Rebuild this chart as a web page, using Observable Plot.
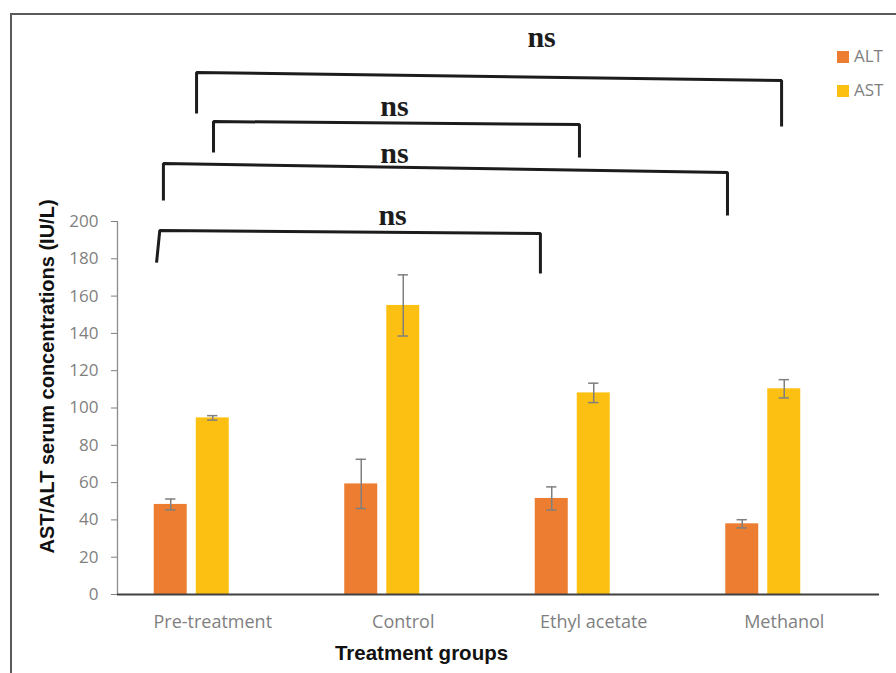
<!DOCTYPE html>
<html>
<head>
<meta charset="utf-8">
<script src="https://cdn.jsdelivr.net/npm/d3@7"></script>
<script src="https://cdn.jsdelivr.net/npm/@observablehq/plot@0.6"></script>
<style>
  html, body { margin: 0; padding: 0; background: #fff; }
  #wrap { position: relative; width: 896px; height: 673px; overflow: hidden; }
  #frame { position: absolute; left: 10px; top: 13px; width: 900px; height: 700px;
           border-left: 2px solid #5a5a5a; border-top: 2px solid #5a5a5a; pointer-events: none; }
  .leg { position: absolute; font-family: "Open Sans", sans-serif; font-size: 17px; color: #7f7f7f; line-height: 1; }
  .leg span.sw { position: absolute; left: 0; top: 2px; width: 12px; height: 12px; }
  .leg span.lb { position: absolute; left: 17px; top: -2px; white-space: nowrap; }
</style>
</head>
<body>
<div id="wrap"></div>
<script>
// ---- data ----
const groups = ["Pre-treatment", "Control", "Ethyl acetate", "Methanol"];
const series = ["ALT", "AST"];
const seriesColors = ["#ED7D31", "#FCC012"];
const altMean = [48.3, 59.3, 51.5, 37.9];
const altErr  = [2.9, 13.2, 6.2, 2.2];
const astMean = [94.7, 155.0, 108.1, 110.3];
const astErr  = [1.2, 16.4, 5.2, 4.9];
const yTicks = [0, 20, 40, 60, 80, 100, 120, 140, 160, 180, 200];

// significance brackets (x in group units, y in IU/L units)
const bracketX = [
  [0.415, 0.415, 3.486, 3.486],
  [0.504, 0.504, 2.425, 2.425],
  [0.241, 0.241, 3.202, 3.202],
  [0.205, 0.222, 2.220, 2.220]
];
const bracketY = [
  [257.9, 279.9, 275.6, 250.9],
  [237.0, 253.6, 252.0, 234.3],
  [211.3, 231.1, 226.3, 203.2],
  [178.0, 195.2, 193.6, 172.1]
];
const nsText = ["ns", "ns", "ns", "ns"];
const nsX = [2.226, 1.454, 1.454, 1.444];
const nsY = [293.8, 256.8, 231.1, 197.9];

// ---- derived tables ----
const STEP = 0.2205, HALF = 0.0866, CAP = 0.027;
const rows = groups.flatMap((g, i) => series.map((s, j) => ({
  group: g, gi: i, series: s, slot: j - 1,
  mean: s === "ALT" ? altMean[i] : astMean[i],
  err: s === "ALT" ? altErr[i] : astErr[i]
})));
const cx = d => d.gi + 0.5 + d.slot * STEP;
const caps = rows.flatMap(d => [d.mean - d.err, d.mean + d.err].map(v => ({...d, v})));
const bracketPts = bracketX.flatMap((xs, b) => xs.map((x, k) => ({id: b, x, y: bracketY[b][k]})));
const nsRows = nsText.map((t, i) => ({t, x: nsX[i], y: nsY[i]}));

const plot = Plot.plot({
  width: 896, height: 673,
  marginLeft: 117, marginRight: 17, marginTop: 221, marginBottom: 79,
  x: {domain: [0, 4], axis: null},
  y: {domain: [0, 200], axis: null},
  color: {domain: series, range: seriesColors},
  style: {fontFamily: "Open Sans, sans-serif", background: "transparent", overflow: "visible"},
  marks: [
    Plot.axisY({ticks: yTicks, tickSize: 6, tickPadding: 13, fontSize: 17, color: "#7f7f7f", label: null}),
    Plot.axisX({ticks: [0.5, 1.5, 2.5, 3.5], tickFormat: v => groups[Math.floor(v)], tickSize: 0, tickPadding: 21,
                fontSize: 18, color: "#7f7f7f", label: null}),
    Plot.rectY(rows, {x1: d => cx(d) - HALF, x2: d => cx(d) + HALF, y1: 0, y2: "mean", fill: "series"}),
    Plot.ruleX([0], {y1: 0, y2: 200, stroke: "#8c8c8c", strokeWidth: 1.3}),
    Plot.ruleY([0], {x1: 0, x2: 4, stroke: "#404040", strokeWidth: 1.8}),
    Plot.ruleX(rows, {x: cx, y1: d => d.mean - d.err, y2: d => d.mean + d.err, stroke: "#7f7f7f", strokeWidth: 1.5}),
    Plot.ruleY(caps, {y: "v", x1: d => cx(d) - CAP, x2: d => cx(d) + CAP, stroke: "#7f7f7f", strokeWidth: 1.5}),
    Plot.line(bracketPts, {x: "x", y: "y", z: "id", stroke: "#1c1c1c", strokeWidth: 3, strokeLinejoin: "miter", strokeLinecap: "butt"}),
    Plot.text(nsRows, {x: "x", y: "y", text: "t", lineAnchor: "bottom", fontFamily: "Liberation Serif, serif",
                       fontWeight: "bold", fontSize: 30, fill: "#1c1c1c"}),
    Plot.text(["AST/ALT serum concentrations (IU/L)"], {text: d => d, frameAnchor: "left", textAnchor: "middle", lineAnchor: "middle",
                       rotate: -90, dx: -70, dy: -31.5,
                       fontFamily: "Liberation Sans, Arial, sans-serif", fontWeight: "bold", fontSize: 20, fill: "#111"}),
    Plot.text(["Treatment groups"], {text: d => d, frameAnchor: "bottom", textAnchor: "middle", dx: -77, dy: 65, lineAnchor: "bottom",
                       fontFamily: "Liberation Sans, Arial, sans-serif", fontWeight: "bold", fontSize: 20.5, fill: "#111"})
  ]
});
plot.style.position = "absolute";
plot.style.left = "0px";
plot.style.top = "0px";
const wrap = document.getElementById("wrap");
wrap.appendChild(plot);

const frame = document.createElement("div");
frame.id = "frame";
wrap.appendChild(frame);

// legend
const legTop = [51, 85];
series.forEach((s, i) => {
  const d = document.createElement("div");
  d.className = "leg";
  d.style.left = "837px";
  d.style.top = (legTop[i] - 2) + "px";
  d.innerHTML = `<span class="sw" style="background:${seriesColors[i]}"></span><span class="lb">${s}</span>`;
  wrap.appendChild(d);
});
</script>
</body>
</html>
